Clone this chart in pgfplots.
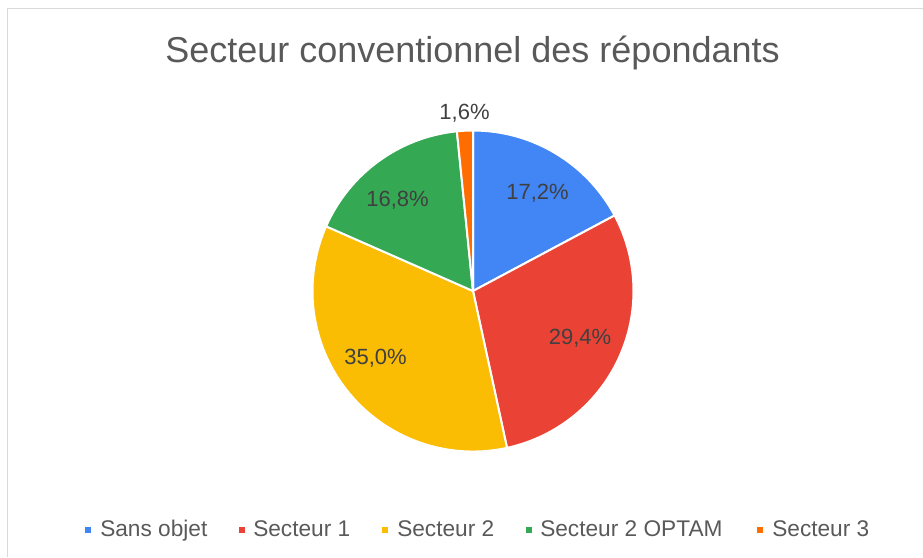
\documentclass[border=0pt]{standalone}
\usepackage{fontspec}
\setmainfont{Liberation Sans}
\usepackage{pgfplots}
\usepackage{pgfplotstable}
\pgfplotsset{compat=1.18}
\definecolor{pie0}{HTML}{4285F4}
\definecolor{pie1}{HTML}{EA4335}
\definecolor{pie2}{HTML}{FBBC04}
\definecolor{pie3}{HTML}{34A853}
\definecolor{pie4}{HTML}{FF6D01}
\definecolor{titlegray}{HTML}{595959}
\definecolor{labelgray}{HTML}{404040}
\definecolor{framegray}{HTML}{D9D9D9}

\pgfplotstableread[col sep=comma]{
label,value
Sans objet,17.2
Secteur 1,29.4
Secteur 2,35.0
Secteur 2 OPTAM,16.8
Secteur 3,1.6
}\piedata

% radius of the pie, 160.5 px at 0.75pt per px
\def\R{120.375pt}

\begin{document}
\begin{tikzpicture}
% start / end angles and label text of every slice, clockwise from the top
\xdef\cum{90}
\foreach \i in {0,...,4}{
  \pgfplotstablegetelem{\i}{value}\of\piedata
  \pgfmathsetmacro\s{\cum}
  \pgfmathsetmacro\e{\cum-3.6*\pgfplotsretval}
  \expandafter\xdef\csname st\i\endcsname{\s}
  \expandafter\xdef\csname en\i\endcsname{\e}
  \xdef\cum{\e}
  \pgfmathprintnumberto[fixed,fixed zerofill,precision=1,use comma,assume math mode=true]{\pgfplotsretval}\tmp
  \expandafter\global\expandafter\let\csname lb\i\endcsname\tmp
}
\begin{axis}[
  width=692.25pt,height=417.75pt,scale only axis,
  xmin=0,xmax=923,ymin=0,ymax=557,y dir=reverse,
  hide axis,clip=false,
]
\draw[framegray,line width=1.1pt] (axis cs:7.5,557) -- (axis cs:7.5,8.5) -- (axis cs:923,8.5);
\node[anchor=base,text=titlegray,font=\fontsize{27}{32}\selectfont]
  at (axis cs:472.5,62) {Secteur conventionnel des répondants};
\pgfplotsinvokeforeach{0,...,4}{
  \edef\tmpslice{\noexpand\fill[pie#1,draw=white,line width=1.5pt,line join=round]
    (axis cs:473,291) -- ++(\csname st#1\endcsname:\R)
    arc[start angle=\csname st#1\endcsname,end angle=\csname en#1\endcsname,radius=\R] -- cycle;}
  \tmpslice
}
\tikzset{lbl/.style={anchor=base,text=labelgray,font=\fontsize{16.5}{20}\selectfont}}
\node[lbl] at (axis cs:537.5,199) {\csname lb0\endcsname\%};
\node[lbl] at (axis cs:580,344) {\csname lb1\endcsname\%};
\node[lbl] at (axis cs:375.5,364) {\csname lb2\endcsname\%};
\node[lbl] at (axis cs:397.5,206) {\csname lb3\endcsname\%};
\node[lbl] at (axis cs:464.5,119) {\csname lb4\endcsname\%};
% legend
\tikzset{leg/.style={anchor=base west,inner sep=0pt,text=titlegray,font=\fontsize{17}{20}\selectfont}}
\fill[pie0] (axis cs:84.5,527) rectangle (axis cs:90.5,533);
\node[leg] at (axis cs:100,536) {Sans objet};
\fill[pie1] (axis cs:238.5,527) rectangle (axis cs:244.5,533);
\node[leg] at (axis cs:253,536) {Secteur 1};
\fill[pie2] (axis cs:382,527) rectangle (axis cs:388,533);
\node[leg] at (axis cs:397,536) {Secteur 2};
\fill[pie3] (axis cs:525.5,527) rectangle (axis cs:531.5,533);
\node[leg] at (axis cs:540,536) {Secteur 2 OPTAM};
\fill[pie4] (axis cs:757,527) rectangle (axis cs:763,533);
\node[leg] at (axis cs:772,536) {Secteur 3};
\end{axis}
\pgfresetboundingbox
\path (0,0) rectangle (692.25pt,417.75pt);
\end{tikzpicture}
\end{document}
